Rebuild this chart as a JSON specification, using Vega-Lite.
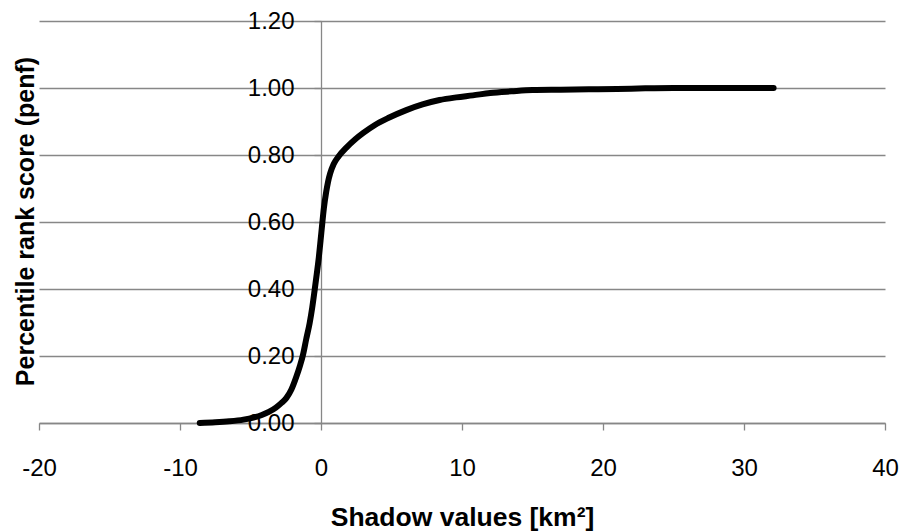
{
  "$schema": "https://vega.github.io/schema/vega-lite/v6.json",
  "width": 846,
  "height": 402,
  "autosize": {"type": "none"},
  "padding": {"left": 39, "top": 21, "right": 19, "bottom": 109},
  "background": "white",
  "config": {
    "view": {"stroke": null},
    "font": "Liberation Sans"
  },
  "data": {
    "values": [
      {"x": -8.6, "p": 0.0},
      {"x": -7.5, "p": 0.002},
      {"x": -6.5, "p": 0.005},
      {"x": -5.5, "p": 0.01},
      {"x": -4.8, "p": 0.016},
      {"x": -4.2, "p": 0.024},
      {"x": -3.7, "p": 0.033},
      {"x": -3.2, "p": 0.046},
      {"x": -2.8, "p": 0.06},
      {"x": -2.45, "p": 0.075},
      {"x": -2.1, "p": 0.1},
      {"x": -1.75, "p": 0.138},
      {"x": -1.5, "p": 0.17},
      {"x": -1.28, "p": 0.203},
      {"x": -1.05, "p": 0.25},
      {"x": -0.81, "p": 0.297},
      {"x": -0.62, "p": 0.345},
      {"x": -0.45, "p": 0.397},
      {"x": -0.3, "p": 0.445},
      {"x": -0.15, "p": 0.496},
      {"x": -0.03, "p": 0.545},
      {"x": 0.09, "p": 0.596},
      {"x": 0.2, "p": 0.64},
      {"x": 0.37, "p": 0.69},
      {"x": 0.5, "p": 0.72},
      {"x": 0.65, "p": 0.745},
      {"x": 0.9, "p": 0.773},
      {"x": 1.27, "p": 0.797},
      {"x": 1.8, "p": 0.822},
      {"x": 2.43, "p": 0.847},
      {"x": 3.0, "p": 0.866},
      {"x": 3.8, "p": 0.889},
      {"x": 4.8, "p": 0.911},
      {"x": 6.05, "p": 0.934},
      {"x": 7.2, "p": 0.951},
      {"x": 8.41, "p": 0.964},
      {"x": 9.6, "p": 0.972},
      {"x": 10.77, "p": 0.978},
      {"x": 12, "p": 0.985},
      {"x": 13.5, "p": 0.99},
      {"x": 15, "p": 0.994},
      {"x": 17, "p": 0.995},
      {"x": 19, "p": 0.996},
      {"x": 21, "p": 0.997},
      {"x": 23, "p": 0.999},
      {"x": 25, "p": 1.0},
      {"x": 28, "p": 1.0},
      {"x": 32.1, "p": 1.0}
    ]
  },
  "mark": {"type": "line", "color": "black", "strokeWidth": 6, "strokeCap": "round", "strokeJoin": "round", "interpolate": "monotone", "clip": false},
  "encoding": {
    "x": {
      "field": "x",
      "type": "quantitative",
      "scale": {"domain": [-20, 40], "nice": false, "zero": false},
      "axis": {
        "title": "Shadow values  [km²]",
        "titleFont": "Liberation Sans",
        "titleFontSize": 26.5,
        "titleFontWeight": "bold",
        "titleColor": "black",
        "titleBaseline": "alphabetic",
        "titleY": 102,
        "values": [-20, -10, 0, 10, 20, 30, 40],
        "labelExpr": "toString(datum.value)",
        "labelFont": "Liberation Sans",
        "labelFontSize": 24,
        "labelColor": "black",
        "labelPadding": 26,
        "labelFlush": false,
        "labelOverlap": false,
        "tickSize": 7,
        "tickColor": "#878787",
        "tickWidth": 1.3,
        "domainColor": "#878787",
        "domainWidth": 1.3,
        "grid": false
      }
    },
    "y": {
      "field": "p",
      "type": "quantitative",
      "scale": {"domain": [0, 1.2], "nice": false},
      "axis": {
        "title": "Percentile rank score  (penf)",
        "titleFont": "Liberation Sans",
        "titleFontSize": 25,
        "titleFontWeight": "bold",
        "titleColor": "black",
        "titleBaseline": "alphabetic",
        "titleAlign": "center",
        "titleAngle": -90,
        "titleX": -288,
        "titleY": 200,
        "offset": -282,
        "values": [0, 0.2, 0.4, 0.6, 0.8, 1.0, 1.2],
        "format": ".2f",
        "labelFont": "Liberation Sans",
        "labelFontSize": 24,
        "labelColor": "black",
        "labelPadding": 20,
        "labelFlush": false,
        "labelOverlap": false,
        "labelBaseline": "middle",
        "tickSize": 7,
        "tickColor": "#878787",
        "tickWidth": 1.3,
        "domainColor": "#878787",
        "domainWidth": 1.3,
        "grid": true,
        "gridColor": "#878787",
        "gridWidth": 1.3,
        "gridOpacity": 1
      }
    }
  }
}
